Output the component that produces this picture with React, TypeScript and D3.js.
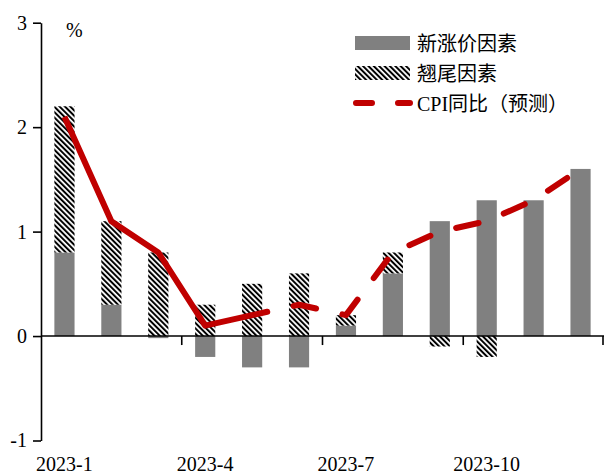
import React, { useEffect, useRef } from "react";
import * as d3 from "d3";

const months = ["2023-1", "2023-2", "2023-3", "2023-4", "2023-5", "2023-6", "2023-7", "2023-8", "2023-9", "2023-10", "2023-11", "2023-12"];
const shownLabels = ["2023-1", "2023-4", "2023-7", "2023-10"];
const newFactor = [0.8, 0.3, -0.02, -0.2, -0.3, -0.3, 0.1, 0.6, 1.1, 1.3, 1.3, 1.6];
const carryOver = [1.4, 0.8, 0.8, 0.3, 0.5, 0.6, 0.1, 0.2, -0.1, -0.2, 0, 0];
const cpiActual: (number | null)[] = [2.1, 1.1, 0.8, 0.1, 0.2, null, null, null, null, null, null, null];
const cpiForecast: (number | null)[] = [null, null, null, null, 0.2, 0.3, 0.2, 0.8, 1.0, 1.1, 1.3, 1.6];
const yTicks = [-1, 0, 1, 2, 3];
const legendLabels = ["新涨价因素", "翘尾因素", "CPI同比（预测）"];

const W = 604;
const H = 475;
const FONT = "'Times New Roman', 'Liberation Serif', 'Noto Sans CJK SC', serif";
const GRAY = "#808080";
const RED = "#C00000";

export default function App() {
  const ref = useRef<SVGSVGElement | null>(null);

  useEffect(() => {
    const svg = d3.select(ref.current);
    svg.selectAll("*").remove();

    const x = d3.scaleBand<string>().domain(months).range([41, 604]).padding(0);
    const y = d3.scaleLinear().domain([-1, 3]).range([440.5, 22.7]);
    const barW = x.bandwidth() * 0.43;

    const defs = svg.append("defs");
    const pat = defs
      .append("pattern")
      .attr("id", "hatch")
      .attr("patternUnits", "userSpaceOnUse")
      .attr("width", 3.8)
      .attr("height", 3.8)
      .attr("patternTransform", "rotate(-45)");
    pat.append("rect").attr("width", 3.8).attr("height", 3.8).attr("fill", "#fff");
    pat.append("rect").attr("width", 2).attr("height", 3.8).attr("fill", "#000");

    // stacked bars
    const rows = months.map((m, i) => ({ m, a: newFactor[i], b: carryOver[i] }));
    const stack = d3.stack<any>().keys(["a", "b"]).offset(d3.stackOffsetDiverging);
    const series = stack(rows);
    const fills = [GRAY, "url(#hatch)"];
    series.forEach((s, si) => {
      svg
        .append("g")
        .selectAll("rect")
        .data(s.filter((d) => d[1] - d[0] !== 0))
        .join("rect")
        .attr("x", (d) => (x(d.data.m) as number) + (x.bandwidth() - barW) / 2)
        .attr("width", barW)
        .attr("y", (d) => y(Math.max(d[0], d[1])))
        .attr("height", (d) => Math.abs(y(d[0]) - y(d[1])))
        .attr("fill", fills[si]);
    });

    // y axis
    const yAxis = d3
      .axisLeft(y)
      .tickValues(yTicks)
      .tickSize(8)
      .tickSizeOuter(0)
      .tickPadding(6)
      .tickFormat((d) => String(d));
    const gy = svg.append("g").attr("transform", "translate(41,0)").call(yAxis);
    gy.selectAll("path, line").attr("stroke", "#000").attr("stroke-width", 1.6);
    gy.selectAll("text").attr("font-family", FONT).attr("font-size", 20).attr("fill", "#000");

    // x axis line at zero
    svg
      .append("line")
      .attr("x1", 41)
      .attr("x2", 604)
      .attr("y1", y(0))
      .attr("y2", y(0))
      .attr("stroke", "#000")
      .attr("stroke-width", 1.6);
    const tickIdx = [3, 6, 9, 12];
    svg
      .append("g")
      .selectAll("line")
      .data(tickIdx)
      .join("line")
      .attr("x1", (i) => (i < 12 ? (x(months[i]) as number) : 603))
      .attr("x2", (i) => (i < 12 ? (x(months[i]) as number) : 603))
      .attr("y1", y(0))
      .attr("y2", y(0) + 9)
      .attr("stroke", "#000")
      .attr("stroke-width", 1.6);
    svg
      .append("g")
      .selectAll("text")
      .data(shownLabels)
      .join("text")
      .attr("x", (d) => (x(d) as number) + x.bandwidth() / 2)
      .attr("y", 471)
      .attr("text-anchor", "middle")
      .attr("font-family", FONT)
      .attr("font-size", 20)
      .attr("fill", "#000")
      .text((d) => d);

    // lines
    const line = d3
      .line<number | null>()
      .defined((d) => d !== null)
      .x((_, i) => (x(months[i]) as number) + x.bandwidth() / 2)
      .y((d) => y(d as number));
    svg
      .append("path")
      .attr("d", line(cpiActual))
      .attr("fill", "none")
      .attr("stroke", RED)
      .attr("stroke-width", 6)
      .attr("stroke-linejoin", "round");
    svg
      .append("path")
      .attr("d", line(cpiForecast))
      .attr("fill", "none")
      .attr("stroke", RED)
      .attr("stroke-width", 6)
      .attr("stroke-linecap", "round")
      .attr("stroke-linejoin", "round")
      .attr("stroke-dasharray", "23 27")
      .attr("stroke-dashoffset", 7.5);

    // % unit
    svg
      .append("text")
      .attr("x", 66)
      .attr("y", 37)
      .attr("font-family", FONT)
      .attr("font-size", 20)
      .text("%");

    // legend
    const lg = svg.append("g");
    lg.append("rect").attr("x", 355).attr("y", 36).attr("width", 55).attr("height", 14).attr("fill", GRAY);
    lg.append("rect").attr("x", 355).attr("y", 66).attr("width", 55).attr("height", 14).attr("fill", "url(#hatch)");
    lg.append("line")
      .attr("x1", 356)
      .attr("x2", 410)
      .attr("y1", 103)
      .attr("y2", 103)
      .attr("stroke", RED)
      .attr("stroke-width", 6)
      .attr("stroke-linecap", "round")
      .attr("stroke-dasharray", "16 26");
    const ly = [50.5, 81, 111];
    lg.selectAll("text")
      .data(legendLabels)
      .join("text")
      .attr("x", 417)
      .attr("y", (_, i) => ly[i])
      .attr("font-family", FONT)
      .attr("font-size", 20)
      .attr("fill", "#000")
      .text((d) => d);
  }, []);

  return (
    <svg
      ref={ref}
      width={W}
      height={H}
      style={{ position: "absolute", left: 0, top: 0, background: "#fff" }}
    />
  );
}
